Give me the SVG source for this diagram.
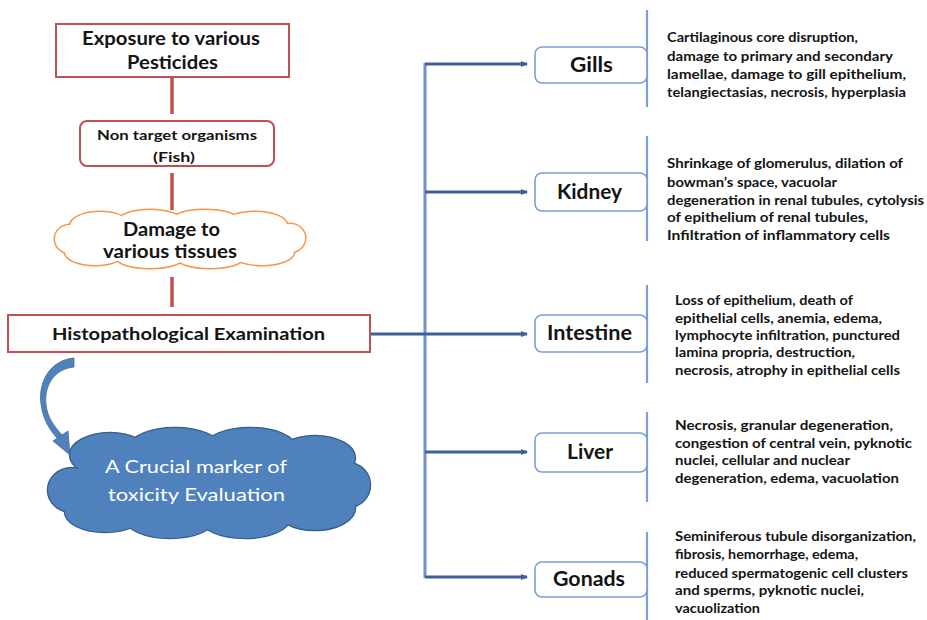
<svg xmlns="http://www.w3.org/2000/svg" xmlns:xlink="http://www.w3.org/1999/xlink" width="927" height="620" viewBox="0 0 927 620">
<style>
.rbox{fill:#fff;stroke:#c0504d;stroke-width:2}
.obox{fill:#fff;stroke:#7a9fd4;stroke-width:1.6}
.red{stroke:#c0504d;stroke-width:3.5;fill:none}
.trunk{stroke:#6f94c8;stroke-width:3;fill:none}
.branch{stroke:#3f6094;stroke-width:3;fill:none}
.vbar{stroke:#7a9fd4;stroke-width:2.2;fill:none}
.t{font-family:Lato,"Liberation Sans",sans-serif;font-weight:bold;fill:#141414}
.d{font-family:Lato,"Liberation Sans",sans-serif;font-weight:bold;fill:#141414;font-size:12.5px}
.w{font-family:Lato,"Liberation Sans",sans-serif;fill:#fff;font-size:18px}
.org{font-size:20px}
.cs1{stroke:#f79646;stroke-width:3;fill:#f79646}
.cf1{fill:#fff;stroke:none}
.cs2{stroke:#385d8a;stroke-width:2.5;fill:#385d8a}
.cf2{fill:#4f81bd;stroke:none}
</style>
<defs>
<marker id="ah" markerWidth="8" markerHeight="8" refX="6" refY="4" orient="auto" markerUnits="userSpaceOnUse">
<path d="M0,1 L7,4 L0,7 Z" fill="#3f6094"/>
</marker>
<g id="cloudA">
<ellipse cx="180" cy="239" rx="110" ry="22"/>
<ellipse cx="100" cy="226" rx="30" ry="14"/>
<ellipse cx="150" cy="222" rx="32" ry="12"/>
<ellipse cx="205" cy="221" rx="34" ry="11"/>
<ellipse cx="255" cy="225" rx="32" ry="13"/>
<ellipse cx="95" cy="252" rx="30" ry="13"/>
<ellipse cx="150" cy="256" rx="35" ry="12"/>
<ellipse cx="210" cy="256" rx="35" ry="12"/>
<ellipse cx="262" cy="252" rx="32" ry="13"/>
<ellipse cx="70" cy="239" rx="15" ry="14"/>
<ellipse cx="290" cy="238" rx="15" ry="14"/>
</g>
<g id="cloudB">
<ellipse cx="209" cy="483" rx="140" ry="40"/>
<ellipse cx="110" cy="455" rx="40" ry="22"/>
<ellipse cx="175" cy="447" rx="45" ry="19"/>
<ellipse cx="250" cy="447" rx="45" ry="19"/>
<ellipse cx="315" cy="458" rx="40" ry="22"/>
<ellipse cx="105" cy="512" rx="40" ry="20"/>
<ellipse cx="170" cy="518" rx="45" ry="20"/>
<ellipse cx="245" cy="518" rx="45" ry="20"/>
<ellipse cx="315" cy="508" rx="40" ry="22"/>
<ellipse cx="72" cy="490" rx="24" ry="22"/>
<ellipse cx="348" cy="485" rx="22" ry="22"/>
</g>
</defs>

<g id="connectors">
<line class="red" x1="172" y1="77" x2="172" y2="114"/>
<line class="red" x1="172" y1="173" x2="172" y2="210"/>
<line class="red" x1="172" y1="277" x2="172" y2="307"/>
<line class="trunk" x1="425" y1="63" x2="425" y2="578"/>
<line class="branch" x1="370" y1="334" x2="425" y2="334"/>
<line class="branch" x1="425" y1="64" x2="527" y2="64" marker-end="url(#ah)"/>
<line class="branch" x1="425" y1="192" x2="527" y2="192" marker-end="url(#ah)"/>
<line class="branch" x1="425" y1="334" x2="527" y2="334" marker-end="url(#ah)"/>
<line class="branch" x1="425" y1="452" x2="527" y2="452" marker-end="url(#ah)"/>
<line class="branch" x1="425" y1="577" x2="527" y2="577" marker-end="url(#ah)"/>
<line class="vbar" x1="647" y1="10" x2="647" y2="107"/>
<line class="vbar" x1="647" y1="136" x2="647" y2="241"/>
<line class="vbar" x1="647" y1="285" x2="647" y2="383"/>
<line class="vbar" x1="647" y1="412" x2="647" y2="502"/>
<line class="vbar" x1="647" y1="532" x2="647" y2="620"/>
<g id="curved-arrow" fill="#4f81bd" stroke="#41709f" stroke-width="0.8">
<path d="M74,358 C50,360 38,382 41,404 C43,420 50,430 57,438 L62,435 C54,426 47,417 46,404 C44,386 54,369 74,367 Z"/>
<path d="M53,441 L68,431 L70,455 Z"/>
</g>
</g>

<g id="exposure">
<rect class="rbox" x="56" y="24" width="233" height="53"/>
<text class="t" x="82" y="44.5" font-size="18" textLength="178" lengthAdjust="spacingAndGlyphs">Exposure to various</text>
<text class="t" x="127" y="68.5" font-size="18" textLength="91" lengthAdjust="spacingAndGlyphs">Pesticides</text>
</g>
<g id="nontarget">
<rect class="rbox" x="80" y="121" width="194" height="45" rx="7"/>
<text class="t" x="97" y="140" font-size="14" textLength="160" lengthAdjust="spacingAndGlyphs">Non target organisms</text>
<text class="t" x="153" y="162" font-size="14" textLength="42" lengthAdjust="spacingAndGlyphs">(Fish)</text>
</g>
<g id="damage">
<use xlink:href="#cloudA" class="cs1"/>
<use xlink:href="#cloudA" class="cf1"/>
<text class="t" x="123" y="235.5" font-size="18" textLength="97" lengthAdjust="spacingAndGlyphs">Damage to</text>
<text class="t" x="103" y="257.5" font-size="18" textLength="134" lengthAdjust="spacingAndGlyphs">various tissues</text>
</g>
<g id="histo">
<rect class="rbox" x="8" y="315" width="362" height="37"/>
<text class="t" x="52" y="340" font-size="17" textLength="273" lengthAdjust="spacingAndGlyphs">Histopathological Examination</text>
</g>
<g id="marker">
<use xlink:href="#cloudB" class="cs2"/>
<use xlink:href="#cloudB" class="cf2"/>
<text class="w" x="105" y="472.5" textLength="182" lengthAdjust="spacingAndGlyphs">A Crucial marker of</text>
<text class="w" x="108" y="500.5" textLength="177" lengthAdjust="spacingAndGlyphs">toxicity Evaluation</text>
</g>

<g id="gills">
<rect class="obox" x="535" y="47" width="112" height="36" rx="7"/>
<text class="t org" x="570" y="72" textLength="43" lengthAdjust="spacingAndGlyphs">Gills</text>
<text class="d"><tspan x="667" y="41.5" textLength="191" lengthAdjust="spacingAndGlyphs">Cartilaginous core disruption,</tspan></text>
<text class="d"><tspan x="667" y="60.5" textLength="226" lengthAdjust="spacingAndGlyphs">damage to primary and secondary</tspan></text>
<text class="d"><tspan x="667" y="78.5" textLength="239" lengthAdjust="spacingAndGlyphs">lamellae, damage to gill epithelium,</tspan></text>
<text class="d"><tspan x="667" y="96.5" textLength="239" lengthAdjust="spacingAndGlyphs">telangiectasias, necrosis, hyperplasia</tspan></text>
</g>
<g id="kidney">
<rect class="obox" x="535" y="173" width="112" height="38" rx="7"/>
<text class="t org" x="557" y="199" textLength="65" lengthAdjust="spacingAndGlyphs">Kidney</text>
<text class="d"><tspan x="667" y="167.5" textLength="236" lengthAdjust="spacingAndGlyphs">Shrinkage of glomerulus, dilation of</tspan></text>
<text class="d"><tspan x="667" y="186.5" textLength="170" lengthAdjust="spacingAndGlyphs">bowman’s space, vacuolar</tspan></text>
<text class="d"><tspan x="667" y="204.5" textLength="257" lengthAdjust="spacingAndGlyphs">degeneration in renal tubules, cytolysis</tspan></text>
<text class="d"><tspan x="667" y="221.5" textLength="201" lengthAdjust="spacingAndGlyphs">of epithelium of renal tubules,</tspan></text>
<text class="d"><tspan x="667" y="239.5" textLength="223" lengthAdjust="spacingAndGlyphs">Infiltration of  inflammatory cells</tspan></text>
</g>
<g id="intestine">
<rect class="obox" x="535" y="315" width="112" height="37" rx="7"/>
<text class="t org" x="547" y="340" textLength="85" lengthAdjust="spacingAndGlyphs">Intestine</text>
<text class="d"><tspan x="675" y="304.5" textLength="178" lengthAdjust="spacingAndGlyphs">Loss of epithelium, death of</tspan></text>
<text class="d"><tspan x="675" y="322.5" textLength="207" lengthAdjust="spacingAndGlyphs">epithelial cells, anemia, edema,</tspan></text>
<text class="d"><tspan x="675" y="339.5" textLength="225" lengthAdjust="spacingAndGlyphs">lymphocyte infiltration, punctured</tspan></text>
<text class="d"><tspan x="675" y="356.5" textLength="180" lengthAdjust="spacingAndGlyphs">lamina propria, destruction,</tspan></text>
<text class="d"><tspan x="675" y="374.5" textLength="225" lengthAdjust="spacingAndGlyphs">necrosis, atrophy in epithelial cells</tspan></text>
</g>
<g id="liver">
<rect class="obox" x="535" y="433" width="112" height="39" rx="7"/>
<text class="t org" x="567" y="459" textLength="46" lengthAdjust="spacingAndGlyphs">Liver</text>
<text class="d"><tspan x="675" y="429.5" textLength="218" lengthAdjust="spacingAndGlyphs">Necrosis, granular degeneration,</tspan></text>
<text class="d"><tspan x="675" y="447.5" textLength="237" lengthAdjust="spacingAndGlyphs">congestion of central vein,  pyknotic</tspan></text>
<text class="d"><tspan x="675" y="464.5" textLength="175" lengthAdjust="spacingAndGlyphs">nuclei, cellular and nuclear</tspan></text>
<text class="d"><tspan x="675" y="482.5" textLength="224" lengthAdjust="spacingAndGlyphs">degeneration, edema, vacuolation</tspan></text>
</g>
<g id="gonads">
<rect class="obox" x="535" y="562" width="112" height="35" rx="7"/>
<text class="t org" x="553" y="586" textLength="72" lengthAdjust="spacingAndGlyphs">Gonads</text>
<text class="d"><tspan x="675" y="540.5" textLength="241" lengthAdjust="spacingAndGlyphs">Seminiferous tubule disorganization,</tspan></text>
<text class="d"><tspan x="675" y="558.5" textLength="183" lengthAdjust="spacingAndGlyphs">fibrosis, hemorrhage, edema,</tspan></text>
<text class="d"><tspan x="675" y="577.5" textLength="233" lengthAdjust="spacingAndGlyphs">reduced spermatogenic cell clusters</tspan></text>
<text class="d"><tspan x="675" y="594.5" textLength="189" lengthAdjust="spacingAndGlyphs">and sperms, pyknotic nuclei,</tspan></text>
<text class="d"><tspan x="675" y="612.5" textLength="85" lengthAdjust="spacingAndGlyphs">vacuolization</tspan></text>
</g>
</svg>
